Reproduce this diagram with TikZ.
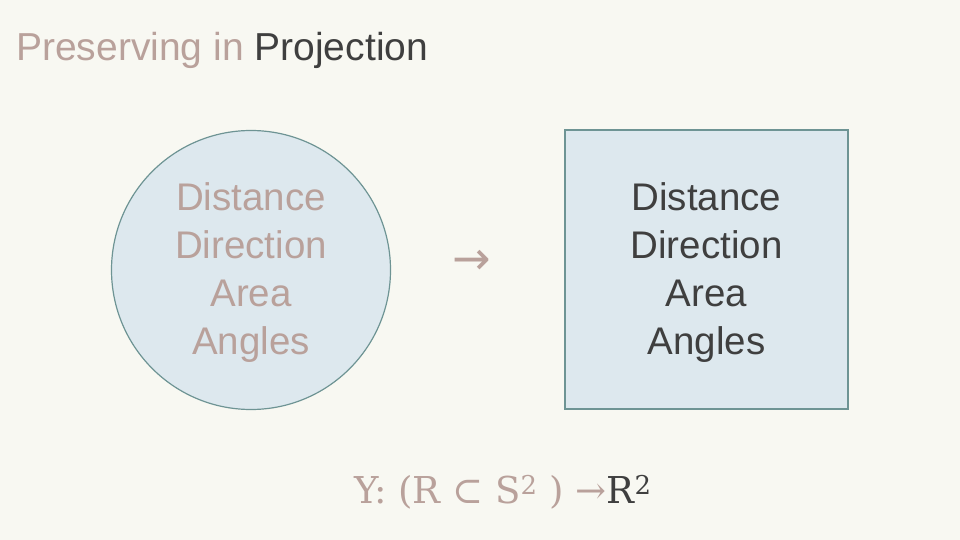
\documentclass[tikz,border=0pt]{standalone}
\usepackage{fontspec}
\setmainfont{Liberation Sans}
\newfontfamily\formulafont{DejaVu Serif}
\newfontfamily\arrowfont{DejaVu Sans}
\usetikzlibrary{positioning}

\definecolor{bgcol}{HTML}{F8F8F2}
\definecolor{rose}{HTML}{B9A19B}
\definecolor{darktext}{HTML}{3F3F3F}
\definecolor{paleblue}{HTML}{DDE8EE}
\definecolor{tealedge}{HTML}{6E9494}

\tikzset{
  props/.style={align=center, font=\fontsize{38.5}{48}\selectfont, inner sep=0pt, yshift=-3pt},
  shapebox/.style={fill=paleblue, draw=tealedge, line width=1.2pt}
}

\begin{document}
\begin{tikzpicture}[x=1pt, y=-1pt]
  \fill [bgcol] (0, 0) rectangle (960, 540);
  \useasboundingbox (0, 0) rectangle (960, 540);
  \node (title) [anchor=west, inner sep=0pt, font=\fontsize{39}{44}\selectfont] at (16, 50)
    {\textcolor{rose}{Preserving in} \textcolor{darktext}{Projection}};
  \node (sphere) [shapebox, circle, minimum size=279pt] at (251, 270) {};
  \node (plane) [shapebox, rectangle, minimum width=283pt, minimum height=279pt] at (706.5, 269.5) {};
  \node (sphtext) [props, rose] at (sphere.center) {Distance\\Direction\\Area\\Angles};
  \node (platext) [props, darktext] at (plane.center) {Distance\\Direction\\Area\\Angles};
  \node (arr) [rose, inner sep=0pt, font=\arrowfont\fontsize{46}{50}\selectfont] at (472, 262) {→};
  \node (map) [inner sep=0pt, font=\formulafont\fontsize{37}{44}\selectfont] at (503, 492)
    {\textcolor{rose}{Y: (R ⊂ S\textsuperscript{2} ) →}\textcolor{darktext}{R\textsuperscript{2}}};
\end{tikzpicture}
\end{document}
